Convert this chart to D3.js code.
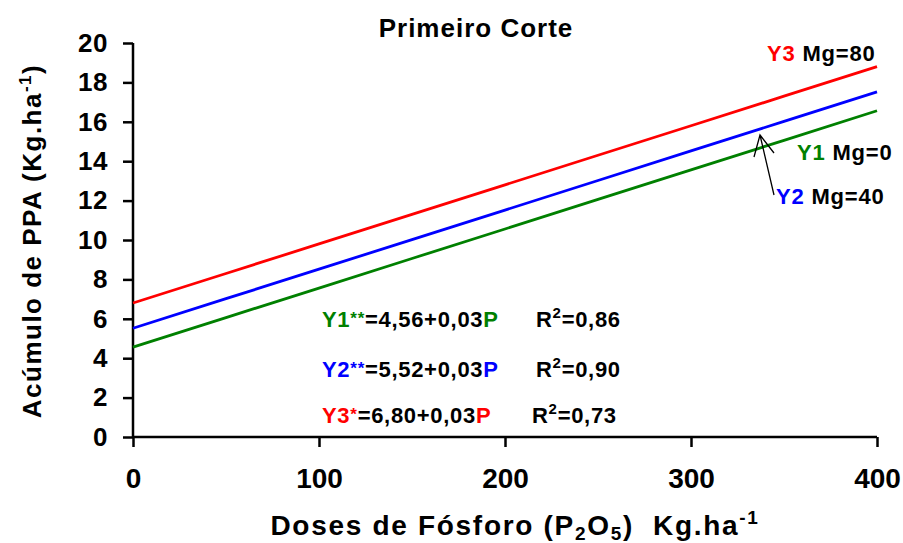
<!DOCTYPE html>
<html>
<head>
<meta charset="utf-8">
<script src="https://cdn.jsdelivr.net/npm/d3@7"></script>
<style>
body { margin: 0; background: #fff; }
text { font-family: "Liberation Sans", Arial, sans-serif; font-weight: bold; }
</style>
</head>
<body>
<svg id="chart" width="903" height="543"></svg>
<script>
// data
var doses = [0, 50, 100, 150, 200, 250, 300, 350, 400];
var y1Mg0 = [4.56, 6.06, 7.56, 9.06, 10.56, 12.06, 13.56, 15.06, 16.56];
var y2Mg40 = [5.52, 7.02, 8.52, 10.02, 11.52, 13.02, 14.52, 16.02, 17.52];
var y3Mg80 = [6.80, 8.30, 9.80, 11.30, 12.80, 14.30, 15.80, 17.30, 18.80];
var xTicks = [0, 100, 200, 300, 400];
var yTicks = [0, 2, 4, 6, 8, 10, 12, 14, 16, 18, 20];

var svg = d3.select("#chart");
var margin = {left: 133, right: 26, top: 43, bottom: 106};
var W = 903, H = 543;

var x = d3.scaleLinear().domain([0, 400]).range([margin.left, W - margin.right]);
var y = d3.scaleLinear().domain([0, 20]).range([H - margin.bottom, margin.top]);

// axes
var gx = svg.append("g")
    .attr("transform", "translate(0," + y(0) + ")")
    .call(d3.axisBottom(x).tickValues(xTicks).tickSize(10).tickPadding(21));
gx.selectAll("text").style("font-size", "28px").attr("fill", "#000");

var gy = svg.append("g")
    .attr("transform", "translate(" + x(0) + ",0)")
    .call(d3.axisLeft(y).tickValues(yTicks).tickSize(10).tickPadding(15));
gy.selectAll("text").style("font-size", "26px").style("letter-spacing", "0.5px").attr("fill", "#000");

svg.selectAll(".domain, .tick line").attr("stroke", "#000").attr("stroke-width", 2.5);
gx.select(".domain").attr("d", "M" + x(0) + ",0H" + x(400));
gy.select(".domain").attr("d", "M0," + y(0) + "V" + y(20));

// lines
var series = [
    {vals: y1Mg0, color: "#008000"},
    {vals: y2Mg40, color: "#0000ff"},
    {vals: y3Mg80, color: "#ff0000"}
];
var line = d3.line().x((d, i) => x(doses[i])).y(d => y(d));
series.forEach(s => {
    svg.append("path")
        .attr("d", line(s.vals))
        .attr("fill", "none")
        .attr("stroke", s.color)
        .attr("stroke-width", 2.8);
});

// title
svg.append("text").attr("x", 476).attr("y", 37).attr("text-anchor", "middle")
    .style("font-size", "26px").style("letter-spacing", "1px").text("Primeiro Corte");

// axis titles
var xt = svg.append("text").attr("x", 515).attr("y", 535).attr("text-anchor", "middle")
    .style("font-size", "28px").style("letter-spacing", "1.7px");
xt.append("tspan").text("Doses de Fósforo (P");
xt.append("tspan").attr("dy", 5).style("font-size", "19px").text("2");
xt.append("tspan").attr("dy", -5).text("O");
xt.append("tspan").attr("dy", 5).style("font-size", "19px").text("5");
xt.append("tspan").attr("dy", -5).text(")\u00a0\u00a0Kg.ha");
xt.append("tspan").attr("dy", -11).style("font-size", "19px").text("-1");

var yt = svg.append("text").attr("transform", "translate(41,241) rotate(-90)")
    .attr("text-anchor", "middle").style("font-size", "26px").style("letter-spacing", "1.5px");
yt.append("tspan").text("Acúmulo de PPA (Kg.ha");
yt.append("tspan").attr("dy", -10).style("font-size", "17px").text("-1");
yt.append("tspan").attr("dy", 10).text(")");

// series labels
function label(xp, yp, name, color, rest) {
    var t = svg.append("text").attr("x", xp).attr("y", yp)
        .style("font-size", "22px").style("letter-spacing", "0.8px");
    t.append("tspan").attr("fill", color).text(name);
    t.append("tspan").attr("fill", "#000").text(" Mg=" + rest);
}
label(767, 61, "Y3", "#ff0000", "80");
label(797, 160, "Y1", "#008000", "0");
label(776, 204, "Y2", "#0000ff", "40");

// arrow to Y2 line
svg.append("path")
    .attr("d", "M774,195L760,135M754,157L760,135L774,153")
    .attr("fill", "none").attr("stroke", "#000").attr("stroke-width", 1.3);

// equations
var eqs = [
    {name: "Y1", star: "**", color: "#008000", body: "=4,56+0,03", r2: "=0,86", y: 327, rx: 536},
    {name: "Y2", star: "**", color: "#0000ff", body: "=5,52+0,03", r2: "=0,90", y: 377, rx: 536},
    {name: "Y3", star: "*", color: "#ff0000", body: "=6,80+0,03", r2: "=0,73", y: 423, rx: 532}
];
eqs.forEach(e => {
    var t = svg.append("text").attr("x", 322).attr("y", e.y)
        .style("font-size", "22px").style("letter-spacing", "0.7px");
    t.append("tspan").attr("fill", e.color).text(e.name);
    t.append("tspan").attr("fill", e.color).attr("dy", -3).style("font-size", "17px").text(e.star);
    t.append("tspan").attr("fill", "#000").attr("dy", 3).text(e.body);
    t.append("tspan").attr("fill", e.color).text("P");
    var r = svg.append("text").attr("x", e.rx).attr("y", e.y)
        .style("font-size", "22px").style("letter-spacing", "0.7px");
    r.append("tspan").text("R");
    r.append("tspan").attr("dy", -9).style("font-size", "15px").text("2");
    r.append("tspan").attr("dy", 9).text(e.r2);
});
</script>
</body>
</html>
